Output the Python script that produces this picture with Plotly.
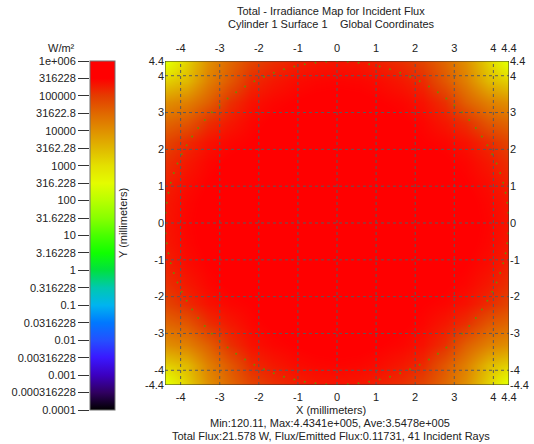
import math
import plotly.graph_objects as go

FONT = "Arial, 'Liberation Sans', sans-serif"

# ---------------- data ----------------
grid_mm = [-4.4, -3.85, -3.3, -2.75, -2.2, -1.65, -1.1, -0.55, 0.0,
           0.55, 1.1, 1.65, 2.2, 2.75, 3.3, 3.85, 4.4]

# log10 of irradiance (W/m^2), rows from y=-4.4 (bottom) to y=4.4 (top)
log10_irradiance = [
    [2.30, 3.20, 4.00, 4.50, 4.90, 5.10, 5.22, 5.30, 5.32, 5.30, 5.22, 5.10, 4.90, 4.50, 4.00, 3.20, 2.30],
    [3.20, 3.50, 4.20, 4.70, 5.15, 5.30, 5.40, 5.45, 5.47, 5.45, 5.40, 5.30, 5.15, 4.70, 4.20, 3.50, 3.20],
    [4.00, 4.20, 4.60, 5.10, 5.35, 5.45, 5.50, 5.54, 5.55, 5.54, 5.50, 5.45, 5.35, 5.10, 4.60, 4.20, 4.00],
    [4.50, 4.70, 5.10, 5.30, 5.45, 5.52, 5.57, 5.60, 5.60, 5.60, 5.57, 5.52, 5.45, 5.30, 5.10, 4.70, 4.50],
    [4.90, 5.15, 5.35, 5.45, 5.50, 5.57, 5.60, 5.62, 5.62, 5.62, 5.60, 5.57, 5.50, 5.45, 5.35, 5.15, 4.90],
    [5.10, 5.30, 5.45, 5.52, 5.57, 5.60, 5.62, 5.63, 5.64, 5.63, 5.62, 5.60, 5.57, 5.52, 5.45, 5.30, 5.10],
    [5.22, 5.40, 5.50, 5.57, 5.60, 5.62, 5.63, 5.65, 5.65, 5.65, 5.63, 5.62, 5.60, 5.57, 5.50, 5.40, 5.22],
    [5.30, 5.45, 5.54, 5.60, 5.62, 5.63, 5.65, 5.65, 5.65, 5.65, 5.65, 5.63, 5.62, 5.60, 5.54, 5.45, 5.30],
    [5.32, 5.47, 5.55, 5.60, 5.62, 5.64, 5.65, 5.65, 5.65, 5.65, 5.65, 5.64, 5.62, 5.60, 5.55, 5.47, 5.32],
    [5.30, 5.45, 5.54, 5.60, 5.62, 5.63, 5.65, 5.65, 5.65, 5.65, 5.65, 5.63, 5.62, 5.60, 5.54, 5.45, 5.30],
    [5.22, 5.40, 5.50, 5.57, 5.60, 5.62, 5.63, 5.65, 5.65, 5.65, 5.63, 5.62, 5.60, 5.57, 5.50, 5.40, 5.22],
    [5.10, 5.30, 5.45, 5.52, 5.57, 5.60, 5.62, 5.63, 5.64, 5.63, 5.62, 5.60, 5.57, 5.52, 5.45, 5.30, 5.10],
    [4.90, 5.15, 5.35, 5.45, 5.50, 5.57, 5.60, 5.62, 5.62, 5.62, 5.60, 5.57, 5.50, 5.45, 5.35, 5.15, 4.90],
    [4.50, 4.70, 5.10, 5.30, 5.45, 5.52, 5.57, 5.60, 5.60, 5.60, 5.57, 5.52, 5.45, 5.30, 5.10, 4.70, 4.50],
    [4.00, 4.20, 4.60, 5.10, 5.35, 5.45, 5.50, 5.54, 5.55, 5.54, 5.50, 5.45, 5.35, 5.10, 4.60, 4.20, 4.00],
    [3.20, 3.50, 4.20, 4.70, 5.15, 5.30, 5.40, 5.45, 5.47, 5.45, 5.40, 5.30, 5.15, 4.70, 4.20, 3.50, 3.20],
    [2.30, 3.20, 4.00, 4.50, 4.90, 5.10, 5.22, 5.30, 5.32, 5.30, 5.22, 5.10, 4.90, 4.50, 4.00, 3.20, 2.30],
]

ray_radius_mm = 4.39
ray_angles_deg = [0, 3.6, 7.2, 10.8, 14.4, 18, 21.6, 25.2, 28.8, 32.4, 36, 39.6, 43.2, 46.8, 50.4,
                  54, 57.6, 61.2, 64.8, 68.4, 72, 75.6, 79.2, 82.8, 86.4, 90, 93.6, 97.2, 100.8,
                  104.4, 108, 111.6, 115.2, 118.8, 122.4, 126, 129.6, 133.2, 136.8, 140.4, 144,
                  147.6, 151.2, 154.8, 158.4, 162, 165.6, 169.2, 172.8, 176.4, 180, 183.6, 187.2,
                  190.8, 194.4, 198, 201.6, 205.2, 208.8, 212.4, 216, 219.6, 223.2, 226.8, 230.4,
                  234, 237.6, 241.2, 244.8, 248.4, 252, 255.6, 259.2, 262.8, 266.4, 270, 273.6,
                  277.2, 280.8, 284.4, 288, 291.6, 295.2, 298.8, 302.4, 306, 309.6, 313.2, 316.8,
                  320.4, 324, 327.6, 331.2, 334.8, 338.4, 342, 345.6, 349.2, 352.8, 356.4]

x_tick_vals = [-4, -3, -2, -1, 0, 1, 2, 3, 4, 4.4]
y_tick_vals = [-4.4, -4, -3, -2, -1, 0, 1, 2, 3, 4, 4.4]
grid_line_vals = [-4, -3, -2, -1, 0, 1, 2, 3, 4]
axis_range = [-4.4, 4.4]

cbar_log_range = [-4, 6]
cbar_tick_log = [-4, -3.5, -3, -2.5, -2, -1.5, -1, -0.5, 0, 0.5, 1, 1.5, 2, 2.5, 3, 3.5, 4, 4.5, 5, 5.5, 6]
cbar_tick_text = ["0.0001", "0.000316228", "0.001", "0.00316228", "0.01", "0.0316228", "0.1",
                  "0.316228", "1", "3.16228", "10", "31.6228", "100", "316.228", "1000",
                  "3162.28", "10000", "31622.8", "100000", "316228", "1e+006"]

colorscale = [
    [0.00, "#000000"], [0.05, "#300060"], [0.10, "#3c00c0"], [0.15, "#3a18ff"],
    [0.20, "#2450ff"], [0.25, "#0078ff"], [0.30, "#00b4f0"], [0.35, "#00c8b0"],
    [0.40, "#00e040"], [0.45, "#10ff00"], [0.50, "#48ff00"], [0.55, "#88ff00"],
    [0.60, "#b8ff00"], [0.65, "#e4fc00"], [0.70, "#e4e000"], [0.75, "#e0b800"],
    [0.80, "#e09000"], [0.85, "#e06800"], [0.90, "#e43c00"], [0.95, "#ff0000"],
    [1.00, "#ff0000"],
]

# ---------------- layout geometry (window pixels) ----------------
W, H = 534, 444
OFF = 0                      # page body margin removed via post_script
PLOT_L, PLOT_R, PLOT_T, PLOT_B = 165, 509, 61, 385
CBAR_L, CBAR_R, CBAR_B = 90, 115, 410

ML = 0
MT = PLOT_T - OFF
MB = H - (CBAR_B - OFF)
MR = W - (PLOT_R - OFF)
PW, PH = W - ML - MR, H - MT - MB


def px_x(px):
    return (px - OFF - ML) / PW


def px_y(py):
    return (H - MB - (py - OFF)) / PH


def fmt(v):
    return f"{v:g}"


plot_x_dom = [px_x(PLOT_L), px_x(PLOT_R)]
plot_y_dom = [px_y(PLOT_B), px_y(PLOT_T)]
cbar_x_dom = [px_x(CBAR_L), px_x(CBAR_R)]

fig = go.Figure()

fig.add_trace(go.Heatmap(
    x=grid_mm, y=grid_mm, z=log10_irradiance,
    colorscale=colorscale, zmin=cbar_log_range[0], zmax=cbar_log_range[1],
    zsmooth="best", hoverinfo="skip",
    colorbar=dict(
        x=cbar_x_dom[0], xanchor="left", y=0, yanchor="bottom",
        len=1, lenmode="fraction", thickness=CBAR_R - CBAR_L, thicknessmode="pixels",
        xpad=0, ypad=0, outlinewidth=1, outlinecolor="#707070",
        showticklabels=False, ticks="",
    ),
))

ray_x = [ray_radius_mm * math.cos(math.radians(a)) for a in ray_angles_deg]
ray_y = [ray_radius_mm * math.sin(math.radians(a)) for a in ray_angles_deg]
fig.add_trace(go.Scatter(
    x=ray_x, y=ray_y, mode="markers",
    marker=dict(size=2, color="#5a9a00", opacity=0.85, line=dict(width=0)),
    hoverinfo="skip", showlegend=False,
))

# empty traces to activate secondary axes
fig.add_trace(go.Scatter(x=[], y=[], xaxis="x2", yaxis="y2", showlegend=False, hoverinfo="skip"))
fig.add_trace(go.Scatter(x=[], y=[], xaxis="x3", yaxis="y3", showlegend=False, hoverinfo="skip"))

tickfont = dict(family=FONT, size=11, color="#222222")

# grid lines drawn above the heatmap
shapes = []
for v in grid_line_vals:
    shapes.append(dict(type="line", xref="x", yref="y", x0=v, x1=v, y0=axis_range[0], y1=axis_range[1],
                       line=dict(color="#5a5a5a", width=1, dash="3px,3px"), layer="above"))
    shapes.append(dict(type="line", xref="x", yref="y", y0=v, y1=v, x0=axis_range[0], x1=axis_range[1],
                       line=dict(color="#5a5a5a", width=1, dash="3px,3px"), layer="above"))
shapes.append(dict(type="rect", xref="x", yref="y", x0=axis_range[0], x1=axis_range[1],
                   y0=axis_range[0], y1=axis_range[1], line=dict(color="#303030", width=1), layer="above"))

common = dict(showgrid=False, zeroline=False, ticks="", tickfont=tickfont, fixedrange=True, showline=False)

fig.update_layout(
    width=W, height=H,
    margin=dict(l=ML, r=MR, t=MT, b=MB, autoexpand=False),
    paper_bgcolor="white", plot_bgcolor="white",
    showlegend=False,
    hovermode=False,
    shapes=shapes,
    xaxis=dict(domain=plot_x_dom, range=axis_range, anchor="y",
               tickmode="array", tickvals=x_tick_vals, ticktext=[fmt(v) for v in x_tick_vals],
               ticklabelstandoff=4, **common),
    yaxis=dict(domain=plot_y_dom, range=axis_range, anchor="x",
               tickmode="array", tickvals=y_tick_vals, ticktext=[fmt(v) for v in y_tick_vals],
               **common),
    xaxis2=dict(overlaying="x", side="top", range=axis_range, anchor="y",
                tickmode="array", tickvals=x_tick_vals, ticktext=[fmt(v) for v in x_tick_vals],
                ticklabelstandoff=6, **common),
    yaxis2=dict(overlaying="y", side="right", range=axis_range, anchor="x",
                tickmode="array", tickvals=y_tick_vals, ticktext=[fmt(v) for v in y_tick_vals],
                **common),
    xaxis3=dict(domain=cbar_x_dom, range=[0, 1], anchor="y3", visible=False, fixedrange=True),
    yaxis3=dict(domain=[0, 1], range=cbar_log_range, anchor="x3", side="left",
                tickmode="array", tickvals=cbar_tick_log, ticktext=cbar_tick_text,
                ticks="outside", ticklen=11, tickcolor="#333333", tickwidth=1,
                showgrid=False, zeroline=False, showline=False, tickfont=tickfont, fixedrange=True),
)

ann_font = dict(family=FONT, size=11, color="#222222")
annotations = [
    ("Total - Irradiance Map for Incident Flux", 331, 11.5, 0),
    ("Cylinder 1 Surface 1\u00a0\u00a0\u00a0\u00a0Global Coordinates", 331, 24, 0),
    ("X (millimeters)", 331, 410, 0),
    ("Min:120.11, Max:4.4341e+005, Ave:3.5478e+005", 330, 422.5, 0),
    ("Total Flux:21.578 W, Flux/Emitted Flux:0.11731, 41 Incident Rays", 331, 435.5, 0),
    ("Y (millimeters)", 123, 223, -90),
    ("W/m²", 61, 48, 0),
]
for text, ax_, ay_, ang in annotations:
    fig.add_annotation(text=text, xref="paper", yref="paper", x=px_x(ax_), y=px_y(ay_),
                       xanchor="center", yanchor="middle", showarrow=False, textangle=ang,
                       font=ann_font)

fig.write_html("out.html", config={"displayModeBar": False, "staticPlot": True},
               post_script="document.body.style.margin='0px';")
